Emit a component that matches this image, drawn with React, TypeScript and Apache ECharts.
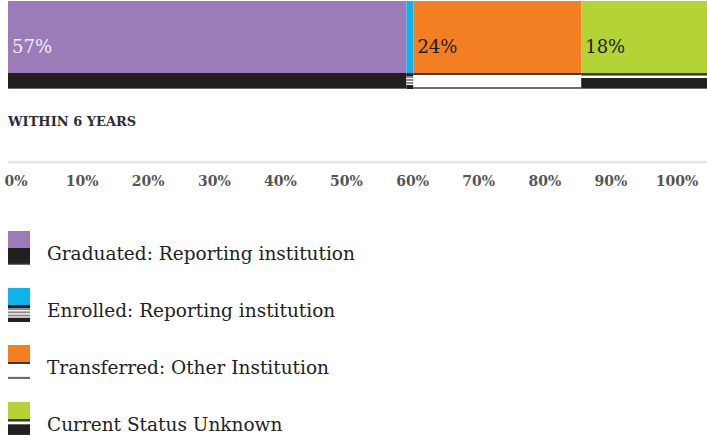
import React, { useEffect, useRef } from "react";
import * as echarts from "echarts";

// ---------- data ----------
const categories = [
  "Graduated: Reporting institution",
  "Enrolled: Reporting institution",
  "Transferred: Other Institution",
  "Current Status Unknown",
];
const values = [57, 1, 24, 18];
const showValueLabel = [true, false, true, true];
const periodTitle = "WITHIN 6 YEARS";
const axisMin = 0;
const axisMax = 100;
const axisStep = 10;

// ---------- styles ----------
const COLORS = ["#9b7cb9", "#0db3ea", "#f47f22", "#b4d334"];
const LABEL_COLORS = ["#f1ebf6", "#111111", "#1c1c1c", "#1c1c1c"];
// stripe rows of the lower band, in units of 1/16 of its height: [offset, height, colour]
const PATTERNS: [number, number, string][][] = [
  [[0, 15, "#231f20"], [15, 1, "#6d6d6d"]],
  [[0, 3, "#231f20"], [3, 2, "#8a8a8a"], [5, 1, "#ffffff"], [6, 2, "#8a8a8a"], [8, 1, "#ffffff"], [9, 2, "#8a8a8a"], [11, 1, "#ffffff"], [12, 4, "#231f20"]],
  [[0, 2, "#3a3a3a"], [2, 12, "#ffffff"], [14, 2, "#6d6d6d"]],
  [[0, 2, "#3a3a3a"], [2, 1, "#8a8a8a"], [3, 2, "#ffffff"], [5, 10, "#231f20"], [15, 1, "#6d6d6d"]],
];

// legend icon: colour on top, band pattern below, transparent room at the bottom
function iconFor(i: number): string {
  const s = 17 / 16;
  const rows = PATTERNS[i]
    .map(([o, h, c]) => `<rect x='0' y='${17 + o * s}' width='22' height='${h * s}' fill='${c}'/>`)
    .join("");
  const svg = `<svg xmlns='http://www.w3.org/2000/svg' width='22' height='44' viewBox='0 0 22 44'><rect x='0' y='0' width='22' height='17' fill='${COLORS[i]}'/>${rows}</svg>`;
  return "image://data:image/svg+xml;charset=utf-8," + encodeURIComponent(svg);
}

const SERIF = "'DejaVu Serif', serif";

export default function App() {
  const ref = useRef<HTMLDivElement>(null);
  useEffect(() => {
    if (!ref.current) return;
    const chart = echarts.init(ref.current, undefined, { renderer: "svg" });

    const starts: number[] = [];
    let acc = 0;
    values.forEach((v) => {
      starts.push(acc);
      acc += v;
    });
    const bandData = values.map((v, i) => [starts[i], starts[i] + v, i]);

    const barSeries = categories.map((name, i) => ({
      name,
      type: "bar",
      stack: "total",
      xAxisIndex: 0,
      yAxisIndex: 0,
      barWidth: "100%",
      data: [values[i]],
      itemStyle: { color: COLORS[i] },
      label: {
        show: showValueLabel[i],
        position: [4, 45],
        align: "left",
        verticalAlign: "middle",
        formatter: "{c}%",
        color: LABEL_COLORS[i],
        fontFamily: SERIF,
        fontSize: 18,
      },
      emphasis: { disabled: true },
    }));

    const option: any = {
      animation: false,
      title: {
        text: periodTitle,
        left: 8,
        top: 115,
        padding: 0,
        textStyle: { fontFamily: SERIF, fontSize: 13, fontWeight: "bold", color: "#2b2b3a" },
      },
      grid: [
        { left: 8, top: 1, width: 700, height: 72 },
        { left: 8, top: 73, width: 700, height: 16 },
        { left: 16, top: 163, width: 661, height: 1 },
      ],
      xAxis: [
        { gridIndex: 0, type: "value", min: axisMin, max: axisMax, show: false },
        { gridIndex: 1, type: "value", min: axisMin, max: axisMax, show: false },
        {
          gridIndex: 2,
          type: "value",
          min: axisMin,
          max: axisMax,
          interval: axisStep,
          axisLine: { show: false },
          axisTick: { show: false },
          splitLine: { show: false },
          axisLabel: {
            formatter: "{value}%",
            margin: 10,
            fontFamily: SERIF,
            fontSize: 14,
            fontWeight: "bold",
            color: "#555555",
          },
        },
      ],
      yAxis: [
        { gridIndex: 0, type: "category", data: [periodTitle], show: false },
        { gridIndex: 1, type: "value", min: 0, max: 1, show: false },
        { gridIndex: 2, type: "value", show: false },
      ],
      legend: {
        orient: "vertical",
        left: 8,
        top: 231,
        padding: 0,
        itemWidth: 22,
        itemHeight: 44,
        itemGap: 13,
        selectedMode: false,
        data: categories.map((name, i) => ({ name, icon: iconFor(i) })),
        textStyle: {
          fontFamily: SERIF,
          fontSize: 18.5,
          color: "#222222",
          padding: [0, 0, 0, 12],
        },
      },
      graphic: [
        {
          type: "rect",
          shape: { x: 8, y: 161, width: 699, height: 2.5 },
          style: { fill: "#e6e6e6" },
          silent: true,
        },
      ],
      series: [
        ...barSeries,
        {
          type: "custom",
          name: "band",
          xAxisIndex: 1,
          yAxisIndex: 1,
          data: bandData,
          encode: { x: [0, 1] },
          silent: true,
          renderItem: (params: any, api: any) => {
            const s = api.value(0);
            const e = api.value(1);
            const idx = api.value(2);
            const p0 = api.coord([s, 0]);
            const p1 = api.coord([e, 0]);
            const cs = params.coordSys;
            const unit = cs.height / 16;
            return {
              type: "group",
              children: PATTERNS[idx].map(([o, h, c]) => ({
                type: "rect",
                shape: { x: p0[0], y: cs.y + o * unit, width: p1[0] - p0[0], height: h * unit },
                style: { fill: c },
              })),
            };
          },
        },
      ],
    };
    chart.setOption(option);
    return () => chart.dispose();
  }, []);
  return (
    <div style={{ position: "absolute", left: 0, top: 0, width: 707, height: 435, overflow: "hidden" }}>
      <div ref={ref} style={{ width: 707, height: 500 }} />
    </div>
  );
}
